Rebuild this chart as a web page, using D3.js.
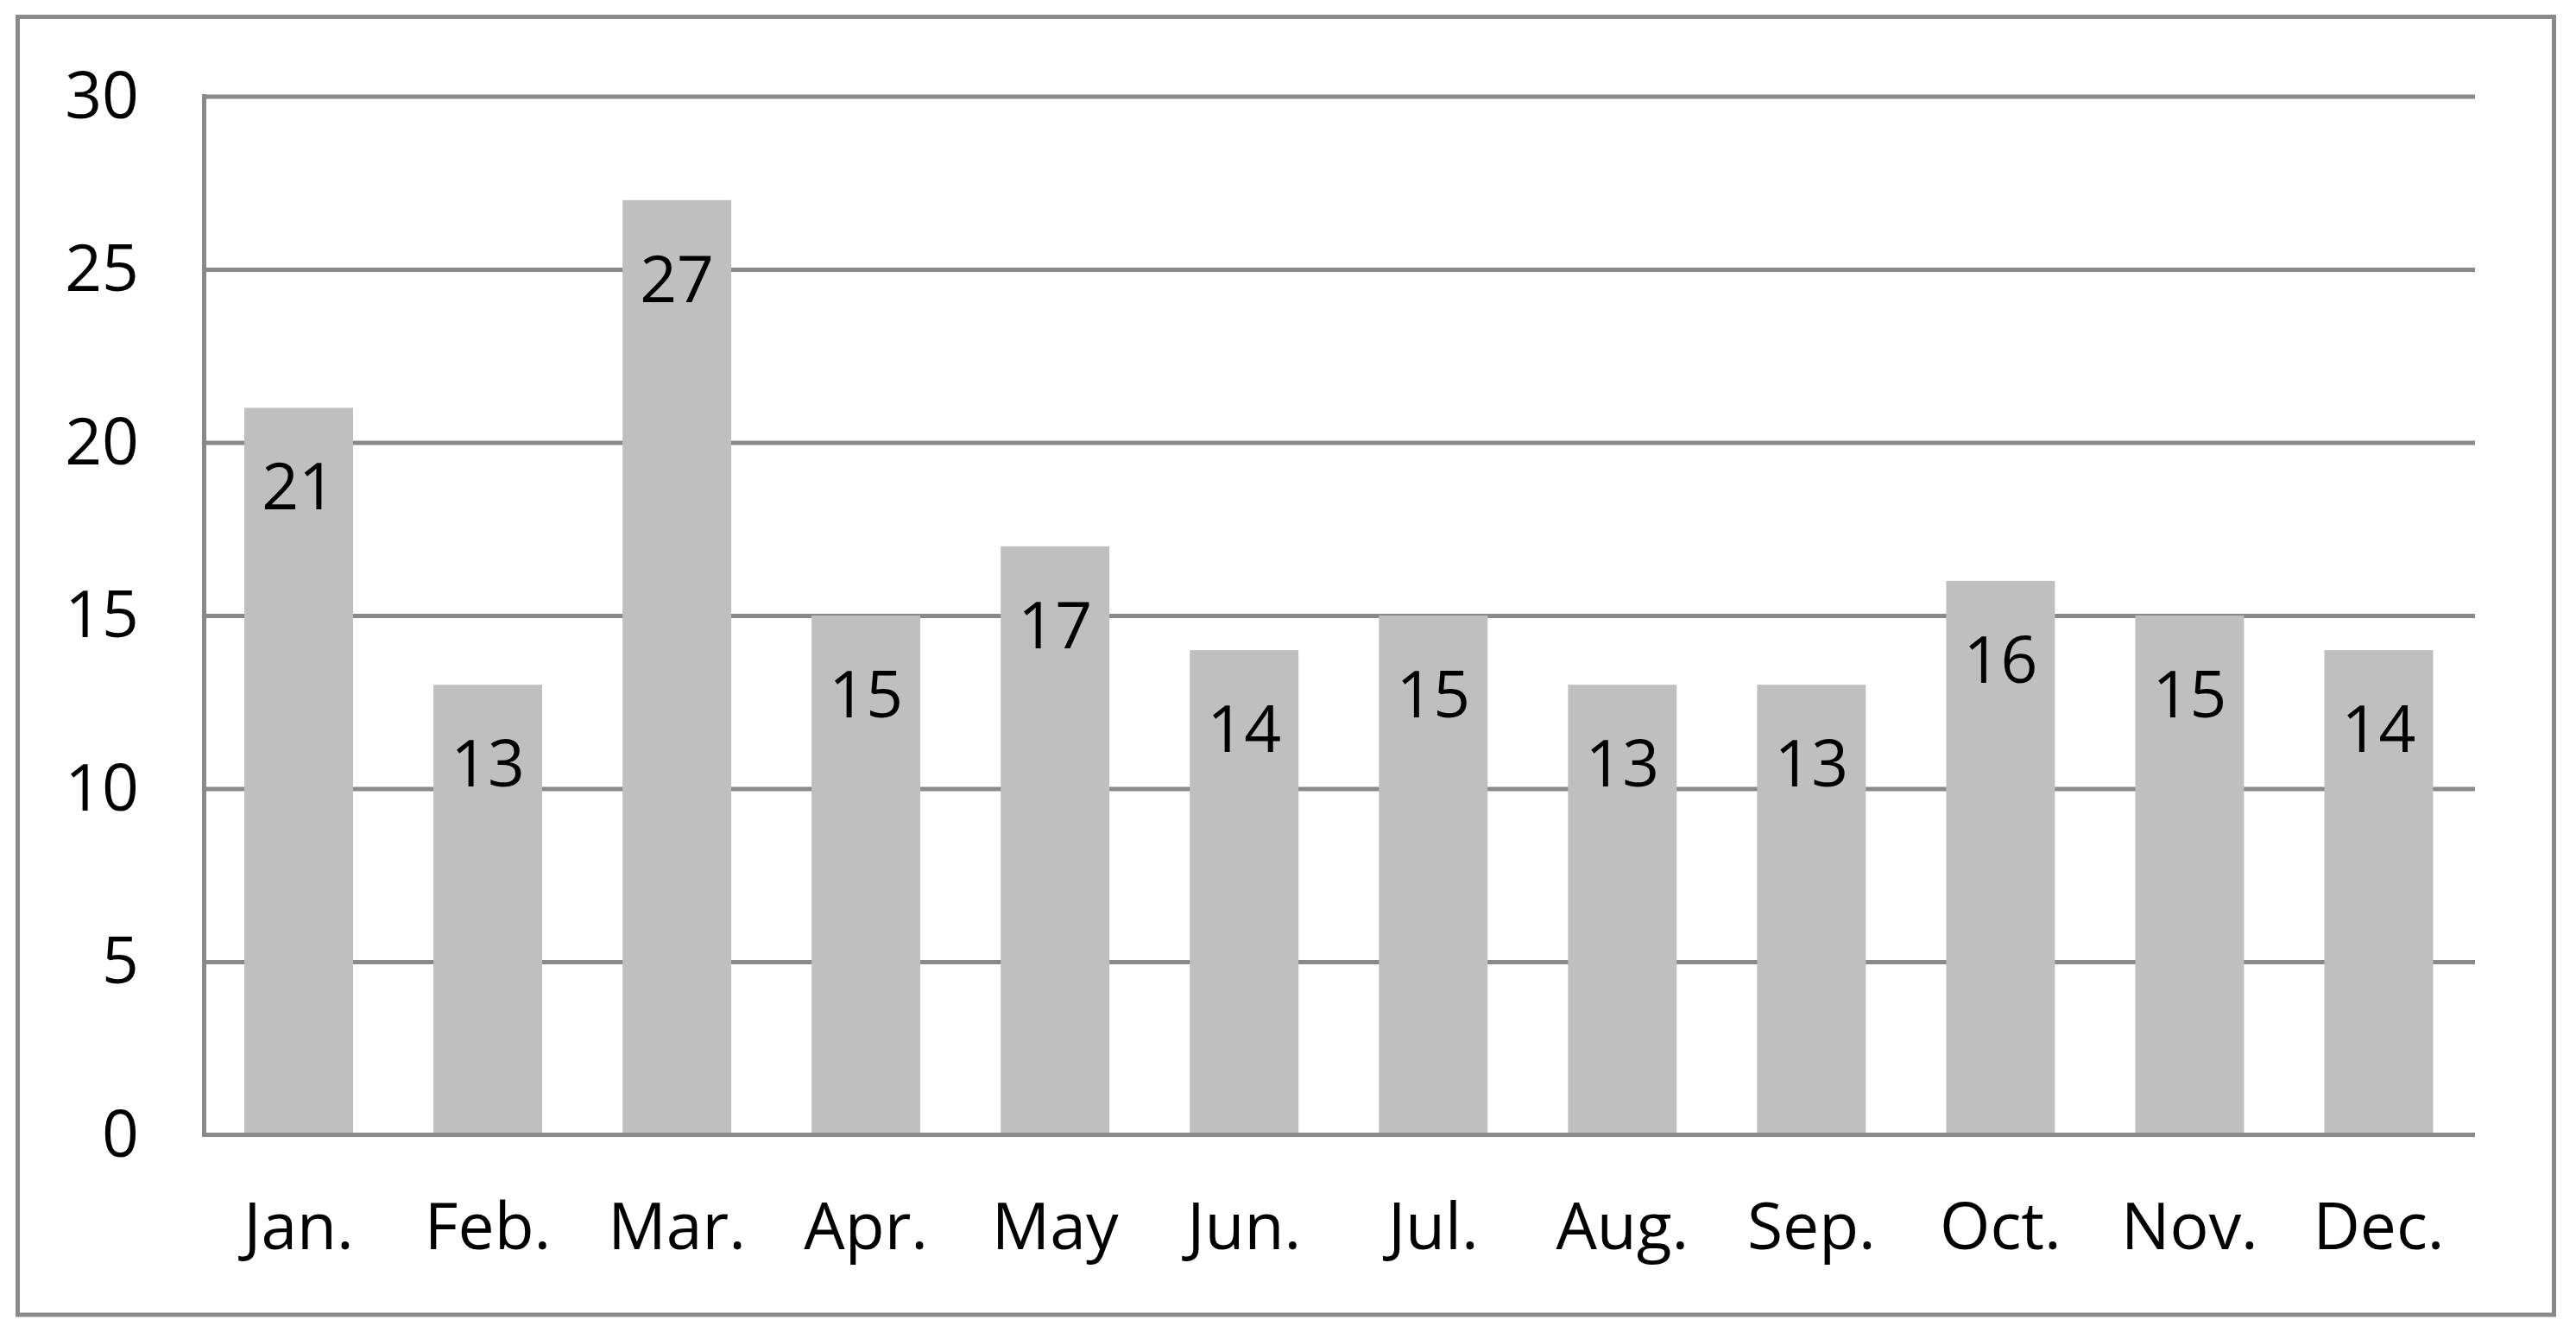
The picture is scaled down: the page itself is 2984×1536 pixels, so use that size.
<!DOCTYPE html>
<html>
<head>
<meta charset="utf-8">
<script src="https://cdn.jsdelivr.net/npm/d3@7"></script>
<style>
  html, body { margin: 0; padding: 0; background: #ffffff; }
  svg { display: block; }
  text { font-family: "Open Sans", "Liberation Sans", sans-serif; fill: #000; }
</style>
</head>
<body>
<svg id="chart" width="2984" height="1536"></svg>
<script>
const categories = ["Jan.", "Feb.", "Mar.", "Apr.", "May", "Jun.", "Jul.", "Aug.", "Sep.", "Oct.", "Nov.", "Dec."];
const values = [21, 13, 27, 15, 17, 14, 15, 13, 13, 16, 15, 14];
const yTicks = [0, 5, 10, 15, 20, 25, 30];

const W = 2984, H = 1536;
const plot = { left: 236.5, right: 2865, top: 111.5, bottom: 1314.5 };
const lineColor = "#898989";
const barColor = "#bfbfbf";
const fontSize = 75;

const svg = d3.select("#chart");

// outer border
svg.append("rect")
  .attr("x", 20.5).attr("y", 19.5)
  .attr("width", 2938).attr("height", 1503.5)
  .attr("fill", "#fff")
  .attr("stroke", lineColor).attr("stroke-width", 5);

const x = d3.scaleBand()
  .domain(categories)
  .range([plot.left, plot.right])
  .paddingInner(0.425)
  .paddingOuter(0.2125);

const y = d3.scaleLinear()
  .domain([0, 30])
  .range([plot.bottom, plot.top]);

// gridlines (under bars)
const grid = svg.append("g")
  .attr("transform", `translate(${plot.left},0)`)
  .call(d3.axisLeft(y).tickValues(yTicks.filter(t => t > 0)).tickSize(-(plot.right + 2 - plot.left)).tickFormat(""));
grid.select(".domain").remove();
grid.selectAll(".tick line").attr("stroke", lineColor).attr("stroke-width", 5);

// bars
svg.append("g").selectAll("rect")
  .data(values)
  .join("rect")
  .attr("x", (d, i) => x(categories[i]))
  .attr("width", x.bandwidth())
  .attr("y", d => y(d))
  .attr("height", d => y(0) - y(d))
  .attr("fill", barColor);

// data labels
svg.append("g").selectAll("text")
  .data(values)
  .join("text")
  .attr("x", (d, i) => x(categories[i]) + x.bandwidth() / 2)
  .attr("y", d => y(d) + 118)
  .attr("text-anchor", "middle")
  .attr("font-size", fontSize)
  .text(d => d);

// y axis (line + labels)
const yAxis = svg.append("g")
  .attr("transform", `translate(${plot.left},0)`)
  .call(d3.axisLeft(y).tickValues(yTicks).tickSize(0).tickPadding(0));
yAxis.select(".domain")
  .attr("stroke", lineColor).attr("stroke-width", 5)
  .attr("d", `M0,${plot.top - 2.5}V${plot.bottom + 2.5}`);
yAxis.selectAll(".tick text")
  .attr("x", 161 - plot.left)
  .attr("dy", null)
  .attr("y", 24.5)
  .attr("font-size", fontSize)
  .attr("font-family", null)
  .attr("fill", "#000")
  .attr("text-anchor", "end");

// x axis (baseline + labels)
const xAxis = svg.append("g")
  .attr("transform", `translate(0,${plot.bottom})`)
  .call(d3.axisBottom(x).tickSize(0).tickPadding(0));
xAxis.select(".domain")
  .attr("stroke", lineColor).attr("stroke-width", 5)
  .attr("d", `M${plot.left - 2.5},0H${plot.right + 2}`);
xAxis.selectAll(".tick text")
  .attr("dy", null)
  .attr("y", 1447 - plot.bottom)
  .attr("font-size", fontSize)
  .attr("font-family", null)
  .attr("fill", "#000");
</script>
</body>
</html>
